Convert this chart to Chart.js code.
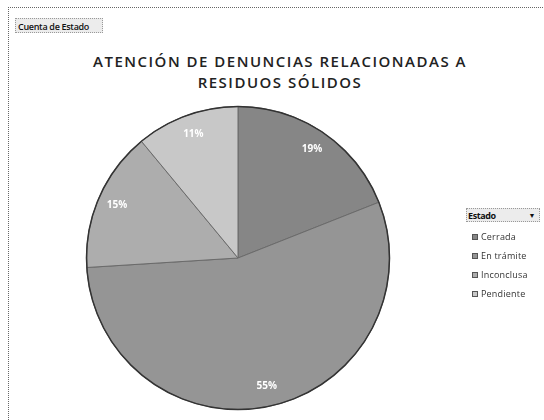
<!DOCTYPE html>
<html>
<head>
<meta charset="utf-8">
<script src="https://cdn.jsdelivr.net/npm/chart.js@4/dist/chart.umd.min.js"></script>
<style>
	html, body { margin: 0; padding: 0; background: #fff; }
	#wrap { position: relative; width: 544px; height: 420px; overflow: hidden; font-family: "Open Sans", sans-serif; }
	#frame { position: absolute; left: 8px; top: 7px; width: 560px; height: 440px; border-top: 1px dotted #666; border-left: 1px dotted #666; }
	#campo { position: absolute; left: 15px; top: 18px; width: 88px; height: 15px; border: 1px dotted #999; background: #ececec; font-size: 9px; line-height: 15px; color: #111; letter-spacing: -0.3px; padding-left: 2px; box-sizing: border-box; font-weight: 600; }
	#titulo { position: absolute; left: 0; width: 560px; top: 51px; text-align: center; font-size: 15px; font-weight: 600; color: #222; line-height: 21px; letter-spacing: 1.5px; }
	#pie { position: absolute; left: 0; top: 0; }
	#leyenda { position: absolute; left: 466px; top: 208px; font-size: 9px; color: #333; }
	#leyenda .cab { width: 74px; height: 14px; border: 1px dotted #999; background: #ececec; font-weight: 700; color: #111; line-height: 14px; box-sizing: border-box; padding-left: 1px; letter-spacing: -0.4px; position: relative; margin-bottom: 5px; }
	#leyenda .cab span { position: absolute; right: 4px; top: 0; font-size: 7px; }
	#leyenda .item { height: 19px; line-height: 19px; padding-left: 6px; white-space: nowrap; letter-spacing: 0.2px; }
	#leyenda .item i { display: inline-block; width: 6px; height: 6px; margin-right: 3px; border: 1px solid #555; box-sizing: border-box; }
</style>
</head>
<body>
<div id="wrap">
	<div id="frame"></div>
	<div id="campo">Cuenta de Estado</div>
	<div id="titulo">ATENCIÓN DE DENUNCIAS RELACIONADAS A<br>RESIDUOS SÓLIDOS</div>
	<canvas id="pie" width="544" height="420"></canvas>
	<div id="leyenda"></div>
</div>
<script>
const estados = ['Cerrada', 'En trámite', 'Inconclusa', 'Pendiente'];
const porcentajes = [19, 55, 15, 11];

const colores = ['#868686', '#959595', '#adadad', '#c8c8c8'];

// etiquetas de porcentaje dentro de cada sector
const etiquetas = {
	id: 'etiquetas',
	afterDatasetsDraw(chart) {
		const ctx = chart.ctx;
		const meta = chart.getDatasetMeta(0);
		ctx.save();
		ctx.font = 'bold 10px "Open Sans", sans-serif';
		ctx.fillStyle = '#ffffff';
		ctx.textAlign = 'center';
		ctx.textBaseline = 'middle';
		meta.data.forEach((arc, i) => {
			const p = arc.getProps(['x', 'y', 'startAngle', 'endAngle', 'outerRadius'], true);
			const a = (p.startAngle + p.endAngle) / 2;
			const r = p.outerRadius * 0.87;
			ctx.fillText(porcentajes[i] + '%', p.x + Math.cos(a) * r, p.y + Math.sin(a) * r);
		});
		ctx.restore();
	}
};

// contorno exterior oscuro del pastel
const contorno = {
	id: 'contorno',
	afterDatasetsDraw(chart) {
		const arc = chart.getDatasetMeta(0).data[0];
		const p = arc.getProps(['x', 'y', 'outerRadius'], true);
		const ctx = chart.ctx;
		ctx.save();
		ctx.strokeStyle = '#333';
		ctx.lineWidth = 1.5;
		ctx.beginPath();
		ctx.arc(p.x, p.y, p.outerRadius, 0, Math.PI * 2);
		ctx.stroke();
		ctx.restore();
	}
};

const data = {
	labels: estados,
	datasets: [{
		data: porcentajes,
		backgroundColor: colores,
		borderColor: '#6a6a6a',
		borderWidth: 1
	}]
};

const config = {
	type: 'pie',
	data: data,
	options: {
		responsive: false,
		animation: false,
		layout: {
			padding: { left: 86, right: 154, top: 106, bottom: 10 }
		},
		plugins: {
			legend: { display: false },
			tooltip: { enabled: false }
		}
	},
	plugins: [contorno, etiquetas]
};

const chart = new Chart(document.getElementById('pie').getContext('2d'), config);

// leyenda estilo tabla dinámica
let html = '<div class="cab">Estado<span>&#9660;</span></div>';
estados.forEach((e, i) => {
	html += '<div class="item"><i style="background:' + colores[i] + '"></i>' + e + '</div>';
});
document.getElementById('leyenda').innerHTML = html;
</script>
</body>
</html>
